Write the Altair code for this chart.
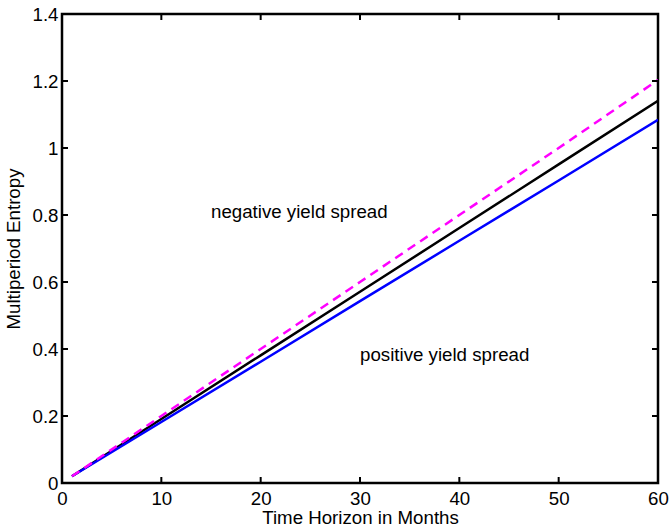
import altair as alt
import pandas as pd

# Data
months = [1, 10, 20, 30, 40, 50, 60]
neg_spread = [0.02, 0.200, 0.400, 0.600, 0.800, 1.000, 1.203]   # magenta dashed
average = [0.02, 0.191, 0.381, 0.571, 0.761, 0.951, 1.141]      # black
pos_spread = [0.02, 0.182, 0.362, 0.543, 0.723, 0.903, 1.084]   # blue

x_ticks = [0, 10, 20, 30, 40, 50, 60]
y_ticks = [0, 0.2, 0.4, 0.6, 0.8, 1.0, 1.2, 1.4]

labels = ["negative yield spread", "positive yield spread"]
label_x = [15, 30]
label_y = [0.81, 0.382]

W, H = 596, 469
FONT = "Liberation Sans"
FS = 18.7

xs = alt.Scale(domain=[0, 60], nice=False, zero=False)
ys = alt.Scale(domain=[0, 1.4], nice=False, zero=False)

x_axis = alt.Axis(values=x_ticks, ticks=False, domain=False, grid=False,
                  labelFontSize=FS, labelFont=FONT, labelColor="black",
                  labelPadding=6, labelFlush=False, labelOverlap=False,
                  title="Time Horizon in Months", titleFontSize=FS, titleFont=FONT,
                  titleFontWeight="normal", titleColor="black", titlePadding=1)
y_axis = alt.Axis(values=y_ticks, ticks=False, domain=False, grid=False,
                  labelFontSize=FS, labelFont=FONT, labelColor="black",
                  labelPadding=4, labelFlush=False, labelOverlap=False,
                  labelExpr="datum.value == 0 ? '0' : format(datum.value, '.1~f')",
                  title="Multiperiod Entropy", titleFontSize=FS, titleFont=FONT,
                  titleFontWeight="normal", titleColor="black", titlePadding=9)

df = pd.DataFrame({"x": months, "neg": neg_spread, "avg": average, "pos": pos_spread})

def line(col, color, dash=None):
    kw = dict(color=color, strokeWidth=2.5, clip=True)
    if dash:
        kw["strokeDash"] = dash
    return alt.Chart(df).mark_line(**kw).encode(
        x=alt.X("x:Q", scale=xs, axis=x_axis),
        y=alt.Y(f"{col}:Q", scale=ys, axis=y_axis),
    )

l_avg = line("avg", "black")
l_pos = line("pos", "#0000FF")
l_neg = line("neg", "#FF00FF", [9, 6])

txt = alt.Chart(pd.DataFrame({"x": label_x, "y": label_y, "t": labels})).mark_text(
    align="left", baseline="middle", fontSize=FS, font=FONT, color="black"
).encode(x=alt.X("x:Q", scale=xs), y=alt.Y("y:Q", scale=ys), text="t:N")

xt = pd.DataFrame({"x": x_ticks})
yt = pd.DataFrame({"y": y_ticks})
tk = dict(color="black", strokeWidth=2)
xb = alt.Chart(xt).mark_rule(**tk).encode(x=alt.X("x:Q", scale=xs), y=alt.value(H), y2=alt.value(H - 6))
xtop = alt.Chart(xt).mark_rule(**tk).encode(x=alt.X("x:Q", scale=xs), y=alt.value(0), y2=alt.value(6))
yl = alt.Chart(yt).mark_rule(**tk).encode(y=alt.Y("y:Q", scale=ys), x=alt.value(0), x2=alt.value(6))
yr = alt.Chart(yt).mark_rule(**tk).encode(y=alt.Y("y:Q", scale=ys), x=alt.value(W), x2=alt.value(W - 6))

chart = alt.layer(l_avg, l_pos, l_neg, txt, xb, xtop, yl, yr).properties(
    width=W, height=H,
    autosize=alt.AutoSizeParams(type="none"),
    padding={"left": 62, "top": 14, "right": 12, "bottom": 44},
    background="white",
).configure_view(stroke="black", strokeWidth=2.5)

chart.save("out.html", embed_options={"renderer": "svg", "actions": False})
